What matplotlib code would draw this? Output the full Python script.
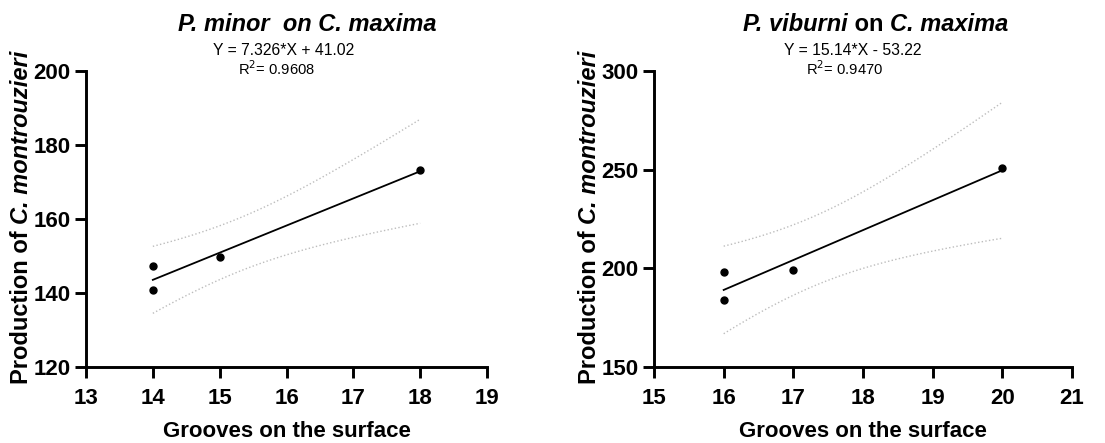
import numpy as np
import matplotlib
matplotlib.use("Agg")
import matplotlib.pyplot as plt

plt.rcParams['font.family'] = ['Liberation Sans', 'DejaVu Sans']

# data
x_minor = [14, 14, 15, 18]
y_minor = [147.2, 140.8, 149.7, 173.2]
x_vib = [16, 16, 17, 20]
y_vib = [198, 184, 199, 251]

eq_minor = "Y = 7.326*X + 41.02"
r2_minor = "R$^2$= 0.9608"
eq_vib = "Y = 15.14*X - 53.22"
r2_vib = "R$^2$= 0.9470"

T95 = 4.303  # t(0.975, df=2)


def fit_band(x, y):
    x = np.asarray(x, float)
    y = np.asarray(y, float)
    b, a = np.polyfit(x, y, 1)
    n = len(x)
    s = np.sqrt(np.sum((y - (a + b * x)) ** 2) / (n - 2))
    xx = np.linspace(x.min(), x.max(), 100)
    se = s * np.sqrt(1 / n + (xx - x.mean()) ** 2 / np.sum((x - x.mean()) ** 2))
    fit = a + b * xx
    return xx, fit, fit - T95 * se, fit + T95 * se


def style(ax, xlim, ylim, yticks):
    ax.set_xlim(*xlim)
    ax.set_ylim(*ylim)
    ax.set_xticks(range(xlim[0], xlim[1] + 1))
    ax.set_yticks(yticks)
    for s in ['top', 'right']:
        ax.spines[s].set_visible(False)
    for s in ['left', 'bottom']:
        ax.spines[s].set_linewidth(2.1)
    ax.tick_params(width=2.1, length=8, labelsize=16)
    ax.tick_params(axis='x', pad=7)
    ax.tick_params(axis='y', pad=3)
    for lab in ax.get_xticklabels() + ax.get_yticklabels():
        lab.set_fontweight('bold')
    ax.set_xlabel('Grooves on the surface', fontsize=16, fontweight='bold', labelpad=9)


def draw(ax, x, y):
    xx, fit, lo, hi = fit_band(x, y)
    ax.plot(xx, lo, ':', color='#bdbdbd', lw=1)
    ax.plot(xx, hi, ':', color='#bdbdbd', lw=1)
    ax.plot(xx, fit, '-', color='black', lw=1.3)
    ax.plot(x, y, 'o', color='black', ms=5, clip_on=False)


fig = plt.figure(figsize=(11.05, 4.43), dpi=100)
ax1 = fig.add_axes([86 / 1105, 1 - 367 / 443, 401 / 1105, 296 / 443])
ax2 = fig.add_axes([654 / 1105, 1 - 367 / 443, 418 / 1105, 296 / 443])

draw(ax1, x_minor, y_minor)
style(ax1, (13, 19), (120, 200), [120, 140, 160, 180, 200])
draw(ax2, x_vib, y_vib)
style(ax2, (15, 21), (150, 300), [150, 200, 250, 300])

# equations
fig.text(284 / 1105, 1 - 55 / 443, eq_minor, ha='center', va='baseline', fontsize=11.3)
fig.text(276 / 1105, 1 - 75 / 443, r2_minor, ha='center', va='baseline', fontsize=10.6)
fig.text(853 / 1105, 1 - 55 / 443, eq_vib, ha='center', va='baseline', fontsize=11.3)
fig.text(845 / 1105, 1 - 75 / 443, r2_vib, ha='center', va='baseline', fontsize=10.6)

# titles
tkw = dict(fontsize=17, fontweight='bold')
fig.text(178 / 1105, 1 - 31 / 443, 'P. minor  on C. maxima', style='italic', va='baseline', **tkw)
t1 = fig.text(743 / 1105, 1 - 31 / 443, 'P. viburni', style='italic', va='baseline', **tkw)
t2 = fig.text(0, 0, ' on ', va='baseline', **tkw)
t3 = fig.text(0, 0, 'C. maxima', style='italic', va='baseline', **tkw)

# y labels, pieces chained
ykw = dict(fontsize=17, fontweight='bold', rotation=90)
pieces = []
for xc in (22, 590):
    a = fig.text(xc / 1105, 1 - 384 / 443, 'Production of ', ha='center', va='bottom', **ykw)
    b = fig.text(0, 0, 'C. montrouzieri', style='italic', ha='center', va='bottom', **ykw)
    pieces.append((a, b))

fig.canvas.draw()
r = fig.canvas.get_renderer()
inv = fig.transFigure.inverted()
bb = t1.get_window_extent(r)
t2.set_position((inv.transform((bb.x1, 0))[0], 1 - 31 / 443))
bb = t2.get_window_extent(r)
t3.set_position((inv.transform((bb.x1, 0))[0], 1 - 31 / 443))
for a, b in pieces:
    bb = a.get_window_extent(r)
    px, py = a.get_position()
    b.set_position((px, inv.transform((0, bb.y1))[1]))

fig.savefig('out.png', dpi=100)
